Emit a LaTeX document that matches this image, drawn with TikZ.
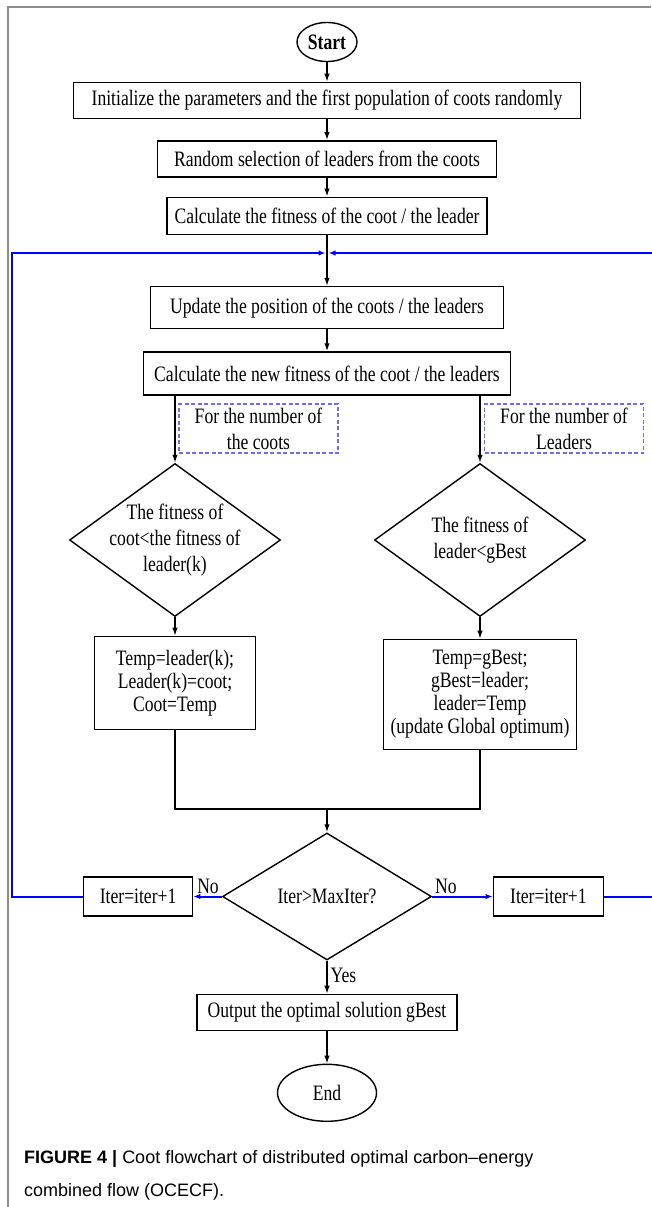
\documentclass[tikz,border=0pt]{standalone}
\usepackage{fontspec}
\setmainfont{Liberation Serif}[FakeStretch=0.8]
\newfontfamily\captionsans{Liberation Sans}
\usepackage{tikz}
\usetikzlibrary{arrows.meta,positioning,shapes.geometric}
\definecolor{loopblue}{HTML}{0000FF}
\definecolor{notedash}{HTML}{6B6BFF}
\definecolor{framegray}{HTML}{8C8C8C}

\begin{document}
\begin{tikzpicture}[
  x=1pt, y=1pt,
  font=\fontsize{22}{24}\selectfont,
  process/.style={rectangle, draw, line width=1.4pt, minimum height=37pt,
                  inner sep=0pt, align=center},
  terminal/.style={ellipse, draw, line width=1.4pt, inner sep=0pt},
  decision/.style={diamond, draw, line width=1.4pt, inner sep=0pt,
                   minimum width=211pt, minimum height=153pt},
  dtext/.style={align=center, font=\fontsize{22}{26}\selectfont},
  note/.style={rectangle, draw=notedash, dash pattern=on 4pt off 2.5pt, line width=1.2pt,
               minimum width=159pt, minimum height=49pt, inner sep=0pt, align=center,
               font=\fontsize{22}{26}\selectfont},
  arrow/.style={-{Latex[length=8pt,width=5.5pt]}, line width=1.4pt},
  loop/.style={-{Latex[length=7pt,width=5.5pt]}, line width=2pt, draw=loopblue}
]
  \useasboundingbox (0,0) rectangle (651,-1207);
  \draw[framegray, line width=1.5pt] (8,-1207) -- (8,-7) -- (651,-7);

  \node[terminal, minimum width=60pt, minimum height=39pt] (start) at (327,-42) {\bfseries Start};
  \node[process, minimum width=507pt, minimum height=36pt, below=19.5pt of start] (init)
    {Initialize the parameters and the first population of coots randomly};
  \node[process, minimum width=339pt, minimum height=36pt, below=21pt of init] (rand)
    {Random selection of leaders from the coots};
  \node[process, minimum width=320pt, below=19pt of rand] (calc)
    {Calculate the fitness of the coot / the leader};
  \node[process, minimum width=353pt, minimum height=42pt, below=51pt of calc] (upd)
    {Update the position of the coots / the leaders};
  \node[process, minimum width=367pt, minimum height=43pt, below=22pt of upd] (calcnew)
    {Calculate the new fitness of the coot / the leaders};
  \coordinate (loop) at (327,-253);

  % two branches
  \node[note] (noteC) at (258.5,-428.5) {For the number of\\the coots};
  \node[note] (noteL) at (564,-428.5) {For the number of\\Leaders};
  \node[decision, label={[dtext]center:The fitness of\\coot<the fitness of\\leader(k)}] (decC) at (175,-540) {};
  \node[decision, label={[dtext]center:The fitness of\\leader<gBest}] (decL) at (480,-540) {};
  \node[process, minimum width=161pt, minimum height=93pt, below=18.5pt of decC, font=\fontsize{22}{23}\selectfont] (swapC)
    {Temp=leader(k);\\Leader(k)=coot;\\Coot=Temp};
  \node[process, minimum width=193pt, minimum height=110pt, below=21.5pt of decL, font=\fontsize{22}{23}\selectfont] (swapL)
    {Temp=gBest;\\gBest=leader;\\leader=Temp\\(update Global optimum)};
  \coordinate (merge) at (327,-809);

  \node[decision, minimum width=209pt, minimum height=127pt, label={[dtext]center:Iter>MaxIter?}] (check) at (327,-896.5) {};
  \node[process, minimum width=109pt, minimum height=39pt, left=28.5pt of check] (iterL) {Iter=iter+1};
  \node[process, minimum width=110pt, minimum height=39pt, right=60.5pt of check] (iterR) {Iter=iter+1};
  \node[process, minimum width=260pt, minimum height=36pt, below=33pt of check] (out)
    {Output the optimal solution gBest};
  \node[terminal, minimum width=99pt, minimum height=57pt, below=32.5pt of out] (end) {End};
  \coordinate (leftrail) at (12,-253);
  \coordinate (rightrail) at (656,-253);

  \draw[arrow] (start) -- (init);
  \draw[arrow] (init) -- (rand);
  \draw[arrow] (rand) -- (calc);
  \draw[arrow] (calc) -- (upd);
  \draw[arrow] (upd) -- (calcnew);
  \draw[arrow] (calcnew.south -| decC.north) -- (decC.north);
  \draw[arrow] (calcnew.south -| decL.north) -- (decL.north);
  \draw[arrow] (decC) -- (swapC);
  \draw[arrow] (decL) -- (swapL);
  \draw[line width=1.4pt] (swapC.south) |- (merge) -| (swapL.south);
  \draw[arrow] (merge) -- (check.north);
  \draw[loop] (check.west) -- (iterL.east) node[pos=0, above left, inner sep=2pt, text=black] {No};
  \draw[loop] (check.east) -- (iterR.west) node[pos=0, above right, inner sep=2pt, text=black] {No};
  \draw[loop] (iterL.west) -| (leftrail) -- ([xshift=-1.5pt]loop);
  \draw[loop] (iterR.east) -| (rightrail) -- ([xshift=1.5pt]loop);
  \draw[arrow] (check.south) -- (out.north) node[pos=0.45, right, inner sep=3pt] {Yes};
  \draw[arrow] (out) -- (end);

  \node[anchor=base west, inner sep=0pt, align=left, font=\captionsans\fontsize{18}{33}\selectfont] (caption) at (24,-1196)
    {\textbf{FIGURE 4 |} Coot flowchart of distributed optimal carbon–energy\\combined flow (OCECF).};
\end{tikzpicture}
\end{document}
